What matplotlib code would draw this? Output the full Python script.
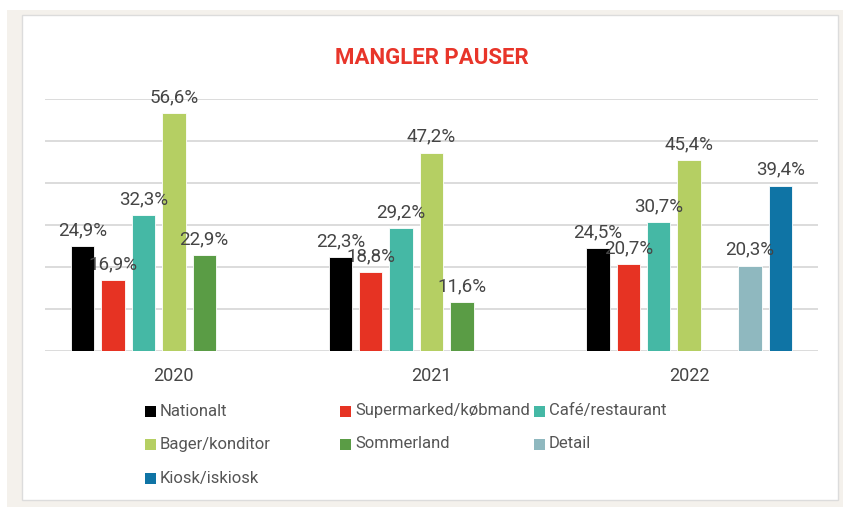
import numpy as np
import matplotlib.pyplot as plt
from matplotlib.patches import Rectangle

plt.rcParams['font.family'] = ['Roboto', 'DejaVu Sans']

years = ['2020', '2021', '2022']
series = ['Nationalt', 'Supermarked/købmand', 'Café/restaurant',
          'Bager/konditor', 'Sommerland', 'Detail', 'Kiosk/iskiosk']
colors = ['#000000', '#e63323', '#45b8a5', '#b5cf63', '#5a9c45', '#8fb8bf', '#0f74a5']
# percent per series, one value per year (None = no bar)
nationalt = [24.9, 22.3, 24.5]
supermarked = [16.9, 18.8, 20.7]
cafe = [32.3, 29.2, 30.7]
bager = [56.6, 47.2, 45.4]
sommerland = [22.9, 11.6, None]
detail = [None, None, 20.3]
kiosk = [None, None, 39.4]
values = [nationalt, supermarked, cafe, bager, sommerland, detail, kiosk]

W, H = 843, 507
fig = plt.figure(figsize=(W / 100, H / 100), dpi=100)
fig.patch.set_facecolor('white')

# beige frame and white panel
fig.add_artist(Rectangle((7 / W, 0), 1, 1 - 10 / H, transform=fig.transFigure,
                         facecolor='#f4f1ec', edgecolor='none', zorder=-3))
fig.add_artist(Rectangle((22 / W, 7 / H), (838 - 22) / W, (500 - 15) / H,
                         transform=fig.transFigure, facecolor='white',
                         edgecolor='#dcdcdc', lw=1, zorder=-2))

ax = fig.add_axes([45 / W, 1 - 351 / H, (818 - 45) / W, (351 - 99) / H])
ax.set_facecolor('none')

x = np.arange(len(years))
slot = 0.825 / len(series)
bw = slot * 0.77
for i, (name, vals, c) in enumerate(zip(series, values, colors)):
    pos = x - 0.825 / 2 + slot * (i + 0.5)
    for p, v in zip(pos, vals):
        if v is None:
            continue
        ax.bar(p, v, width=bw, color=c, edgecolor='white', linewidth=0.6, zorder=3)
        ax.annotate(f'{v:.1f}%'.replace('.', ','), (p, v), xytext=(0, 5),
                    textcoords='offset points', ha='center', va='bottom',
                    fontsize=13.5, color='#454545', zorder=4)

ax.set_xlim(-0.5, 2.5)
ax.set_ylim(0, 60)
ax.set_yticks(np.arange(0, 61, 10))
ax.yaxis.grid(True, color='#d9d9d9', lw=1.3, zorder=0)
ax.tick_params(left=False, bottom=False, labelleft=False)
ax.set_xticks(x)
ax.set_xticklabels(years, fontsize=13, color='#454545')
ax.tick_params(axis='x', pad=8)
for s in ax.spines.values():
    s.set_visible(False)

ax.set_title('MANGLER PAUSER', fontsize=16, fontweight='bold', color='#e8352a', pad=25)

# legend, three columns
col_x = [145, 340, 534]
row_y = [411, 444, 478]
for i, (name, c) in enumerate(zip(series, colors)):
    cx = col_x[i % 3]
    cy = row_y[i // 3]
    fig.add_artist(Rectangle((cx / W, 1 - (cy + 5.5) / H), 11 / W, 11 / H,
                             transform=fig.transFigure, facecolor=c, edgecolor='none'))
    fig.text((cx + 15) / W, 1 - cy / H, name, fontsize=12,
             color='#555555', ha='left', va='center')

fig.savefig('out.png', dpi=100)
